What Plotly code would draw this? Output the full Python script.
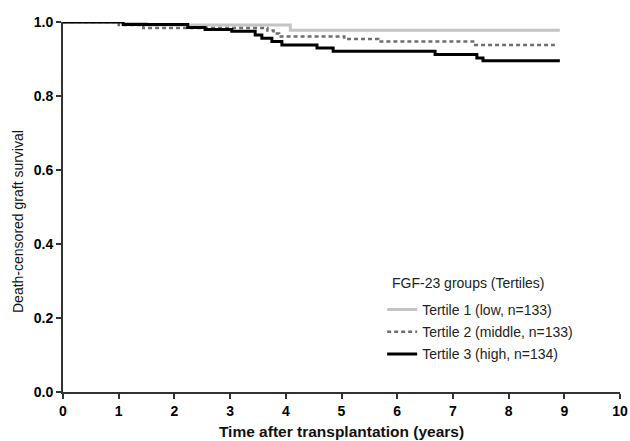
import plotly.graph_objects as go

# Kaplan-Meier step data (time in years, survival)
t1_time = [0, 1.5, 4.08, 8.92]
t1_surv = [1.0, 0.992, 0.978, 0.978]

t2_time = [0, 1.0, 1.44, 3.67, 3.78, 3.88, 5.05, 5.66, 7.4, 8.83]
t2_surv = [1.0, 0.992, 0.984, 0.977, 0.969, 0.961, 0.954, 0.947, 0.938, 0.938]

t3_time = [0, 1.08, 2.24, 2.55, 3.03, 3.45, 3.57, 3.75, 3.93, 4.56, 4.85, 6.68, 7.43, 7.54, 8.92]
t3_surv = [1.0, 0.993, 0.985, 0.980, 0.975, 0.965, 0.956, 0.947, 0.938, 0.930, 0.921, 0.912, 0.903, 0.895, 0.895]

names = ["Tertile 1 (low, n=133)", "Tertile 2 (middle, n=133)", "Tertile 3 (high, n=134)"]
legend_title = "FGF-23 groups (Tertiles)"
y_title = "Death-censored graft survival"
x_title = "Time after transplantation (years)"

x_ticks = list(range(0, 11))
y_ticks = [0.0, 0.2, 0.4, 0.6, 0.8, 1.0]
y_tick_labels = ["0.0", "0.2", "0.4", "0.6", "0.8", "1.0"]

fig = go.Figure()
fig.add_trace(go.Scatter(x=t1_time, y=t1_surv, mode="lines", line_shape="hv", legendgroup="g1",
                         line=dict(color="#c4c4c4", width=3), name=names[0]))
fig.add_trace(go.Scatter(x=t2_time, y=t2_surv, mode="lines", line_shape="hv", legendgroup="g2",
                         line=dict(color="#6e6e6e", width=2.5, dash="4px,3px"), name=names[1]))
fig.add_trace(go.Scatter(x=t3_time, y=t3_surv, mode="lines", line_shape="hv", legendgroup="g3",
                         line=dict(color="#000000", width=3), name=names[2]))

font_family = "Liberation Sans, Arial, sans-serif"

fig.add_annotation(text=legend_title, xref="paper", yref="paper",
                   x=(390 - 63) / 557, y=(392 - 283) / 370, xanchor="left", yanchor="middle",
                   showarrow=False, font=dict(size=14, color="#222"))
fig.add_annotation(text=y_title, xref="paper", yref="paper", textangle=-90,
                   x=0, xshift=-45, y=(392 - 222) / 370, xanchor="center", yanchor="middle",
                   showarrow=False, font=dict(size=14, color="#111"))

fig.update_layout(
    width=630, height=441,
    margin=dict(l=63, r=10, t=22, b=49),
    plot_bgcolor="white", paper_bgcolor="white",
    font=dict(family=font_family, color="#000", size=14),
    legend=dict(
        x=0.573, y=0.265, xanchor="left", yanchor="top",
        font=dict(size=14, color="#222"),
        bgcolor="rgba(0,0,0,0)", itemwidth=30, tracegroupgap=1, traceorder="grouped",
    ),
    xaxis=dict(
        range=[0, 10], tickvals=x_ticks, ticktext=[f"<b>{v}</b>" for v in x_ticks],
        showgrid=False, zeroline=False, showline=True, linecolor="#333", linewidth=2,
        ticks="outside", ticklen=5, tickwidth=2, tickcolor="#333", automargin=False,
        tickfont=dict(size=14, color="#000"),
        title=dict(text=f"<b>{x_title}</b>", font=dict(size=15.5, color="#111"), standoff=8),
    ),
    yaxis=dict(
        range=[0, 1.0], tickvals=y_ticks, ticktext=[f"<b>{v}</b>" for v in y_tick_labels],
        showgrid=False, zeroline=False, showline=True, linecolor="#333", linewidth=2,
        ticks="outside", ticklen=5, tickwidth=2, tickcolor="#333", automargin=False,
        tickfont=dict(size=14, color="#000"),
    ),
)

fig.write_html("out.html", config={"displayModeBar": False},
               post_script="document.body.style.margin='0px';")
